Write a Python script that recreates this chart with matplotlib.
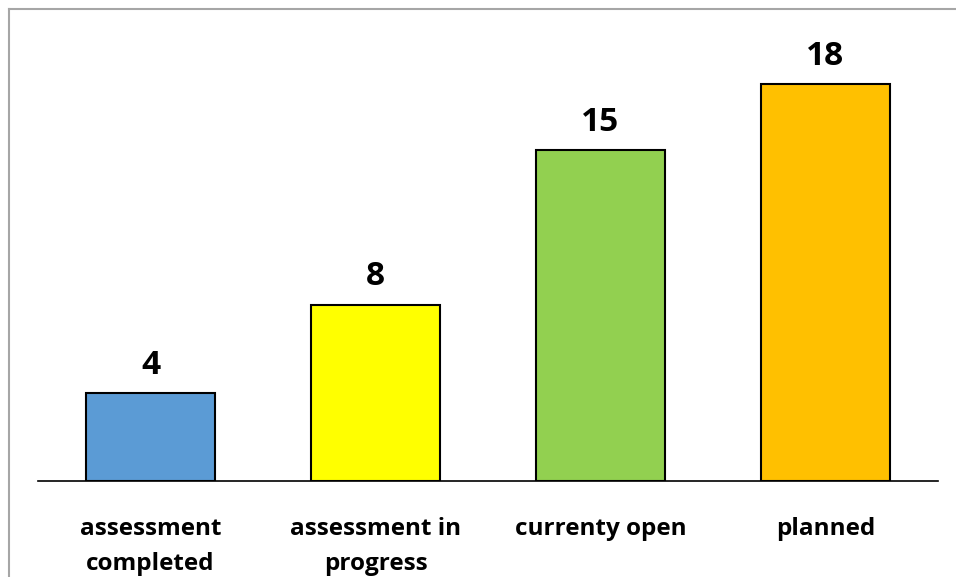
import matplotlib.pyplot as plt
from matplotlib.lines import Line2D

categories = ["assessment\ncompleted", "assessment in\nprogress", "currenty open", "planned"]
values = [4, 8, 15, 18]
colors = ["#5B9BD5", "#FFFF00", "#92D050", "#FFC000"]

plt.rcParams['font.family'] = ['Open Sans', 'DejaVu Sans']

W, H = 956, 577
fig = plt.figure(figsize=(W / 100, H / 100), dpi=100)
ax = fig.add_axes([38 / W, (H - 481) / H, 900 / W, 441 / H])

x = range(len(categories))
bars = ax.bar(x, values, width=0.57, color=colors, edgecolor="black", linewidth=1.5)

for b, v in zip(bars, values):
    ax.annotate(str(v), (b.get_x() + b.get_width() / 2, v), xytext=(0, 8),
                textcoords="offset points", ha="center", va="bottom",
                fontsize=24, fontweight="bold")

ax.set_xlim(-0.5, len(categories) - 0.5)
ax.set_ylim(0, 20)
ax.set_xticks(list(x))
ax.set_xticklabels(categories, fontsize=17.5, fontweight="bold", linespacing=1.6)
ax.tick_params(axis="x", length=0, pad=26)
ax.set_yticks([])
for s in ["left", "right", "top"]:
    ax.spines[s].set_visible(False)
ax.spines["bottom"].set_linewidth(1.2)

# outer chart frame (partly cropped)
fig.add_artist(Line2D([8.5 / W, 8.5 / W], [0, 1 - 9 / H], color="#A6A6A6", linewidth=1.5,
                      transform=fig.transFigure))
fig.add_artist(Line2D([8.5 / W, 1], [1 - 9 / H, 1 - 9 / H], color="#A6A6A6", linewidth=1.5,
                      transform=fig.transFigure))

fig.savefig("out.png", dpi=100)
